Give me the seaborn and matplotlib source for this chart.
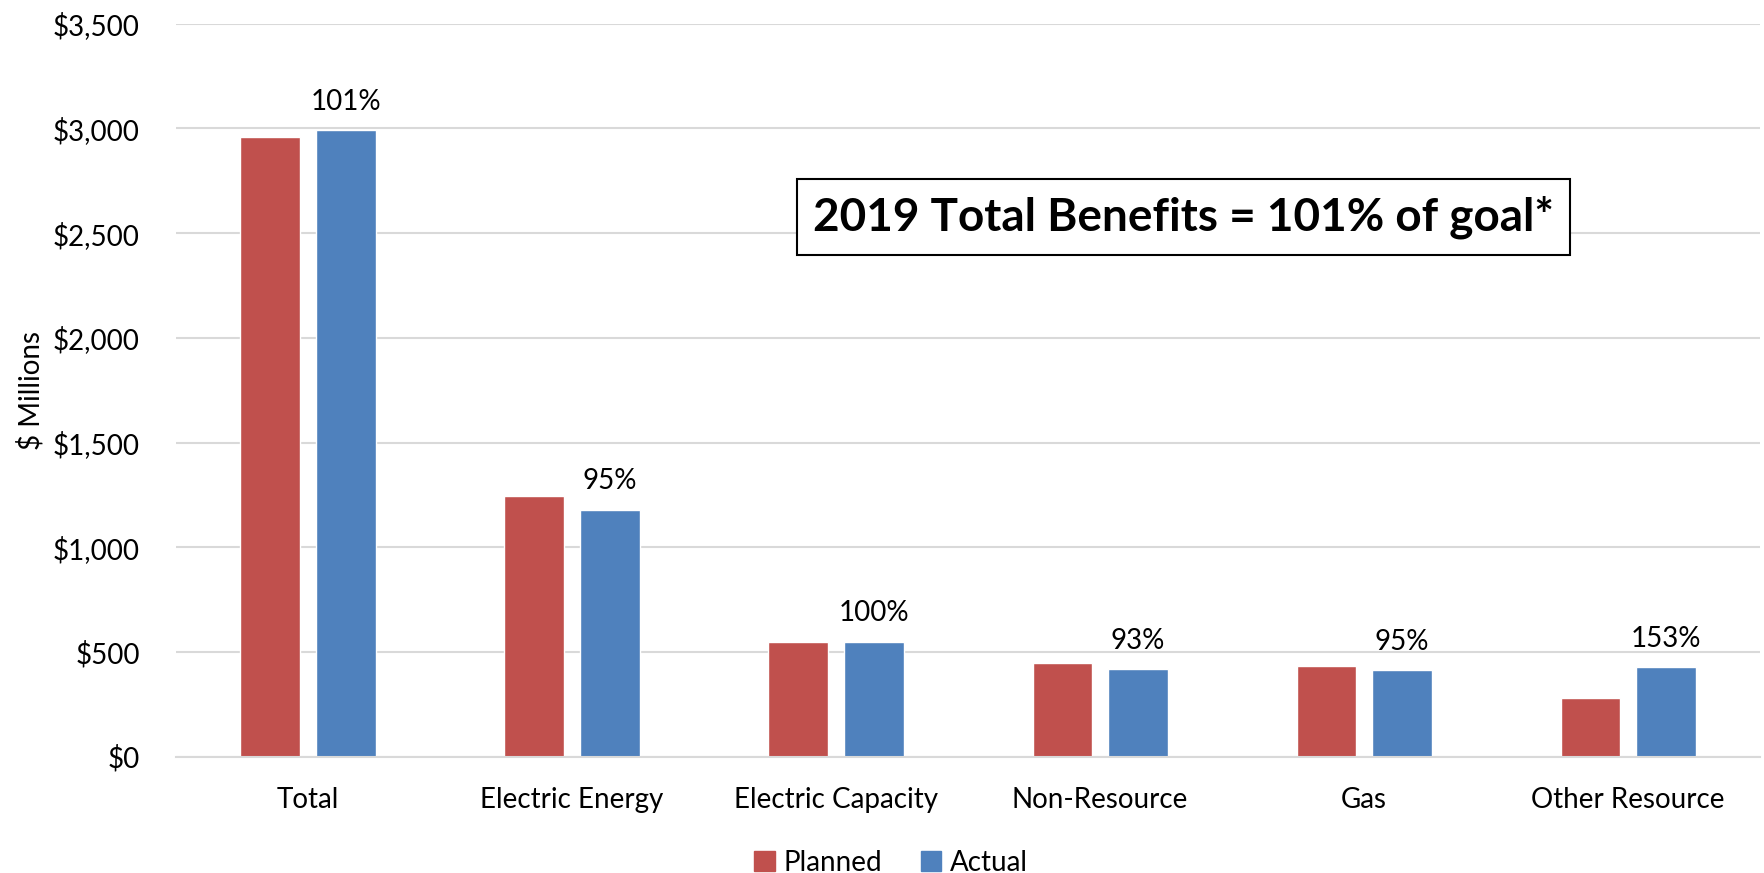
import pandas as pd
import matplotlib.pyplot as plt
import seaborn as sns

# values ($ millions)
categories = ["Total", "Electric Energy", "Electric Capacity", "Non-Resource", "Gas", "Other Resource"]
planned = [2960, 1245, 548, 448, 435, 278]
actual = [2990, 1180, 550, 418, 414, 426]
pct_labels = ["101%", "95%", "100%", "93%", "95%", "153%"]
y_ticks = [0, 500, 1000, 1500, 2000, 2500, 3000, 3500]

df = pd.DataFrame({
    "category": categories * 2,
    "series": ["Planned"] * len(categories) + ["Actual"] * len(categories),
    "value": planned + actual,
})

sns.set_theme(style="white", rc={"text.color": "black", "axes.labelcolor": "black",
                                 "xtick.color": "black", "ytick.color": "black"})
plt.rcParams["font.family"] = ["Lato", "DejaVu Sans"]

fig = plt.figure(figsize=(17.64, 8.73), dpi=100)
ax = fig.add_axes([0.0998, 0.1332, 0.898, 0.8397])

sns.barplot(
    data=df, x="category", y="value", hue="series",
    palette={"Planned": "#C0504D", "Actual": "#4F81BD"}, saturation=1,
    width=0.572, gap=0.21, ax=ax, legend=False,
)

ax.set_ylim(0, 3500)
ax.set_yticks(y_ticks)
ax.set_yticklabels([f"${v:,}" for v in y_ticks], fontsize=20)
ax.tick_params(axis="x", labelsize=20, pad=22, length=0)
ax.tick_params(axis="y", pad=26, length=0)
ax.set_xlabel("")
ax.set_ylabel("$ Millions", fontsize=20, labelpad=6)
ax.yaxis.grid(True, color="#D9D9D9", linewidth=1.5)
ax.set_axisbelow(True)
for side in ["top", "right", "left"]:
    ax.spines[side].set_visible(False)
ax.spines["bottom"].set_color("#D9D9D9")
ax.spines["bottom"].set_linewidth(1.5)

# percentage labels above the Actual bars
ax.bar_label(ax.containers[1], labels=pct_labels, padding=11, fontsize=20)

ax.text(0.402, 0.736, "2019 Total Benefits = 101% of goal*", transform=ax.transAxes,
        fontsize=33, fontweight="bold", va="center", ha="left",
        bbox=dict(boxstyle="square,pad=0.35", facecolor="white", edgecolor="black", linewidth=1.5))

handles = [plt.Rectangle((0, 0), 1, 1, color="#C0504D"), plt.Rectangle((0, 0), 1, 1, color="#4F81BD")]
fig.legend(handles, ["Planned", "Actual"], loc="lower center", bbox_to_anchor=(0.505, -0.032),
           ncol=2, frameon=False, fontsize=20, handlelength=0.75, handleheight=0.75,
           handletextpad=0.3, columnspacing=1.4)

plt.savefig("out.png", dpi=100)
